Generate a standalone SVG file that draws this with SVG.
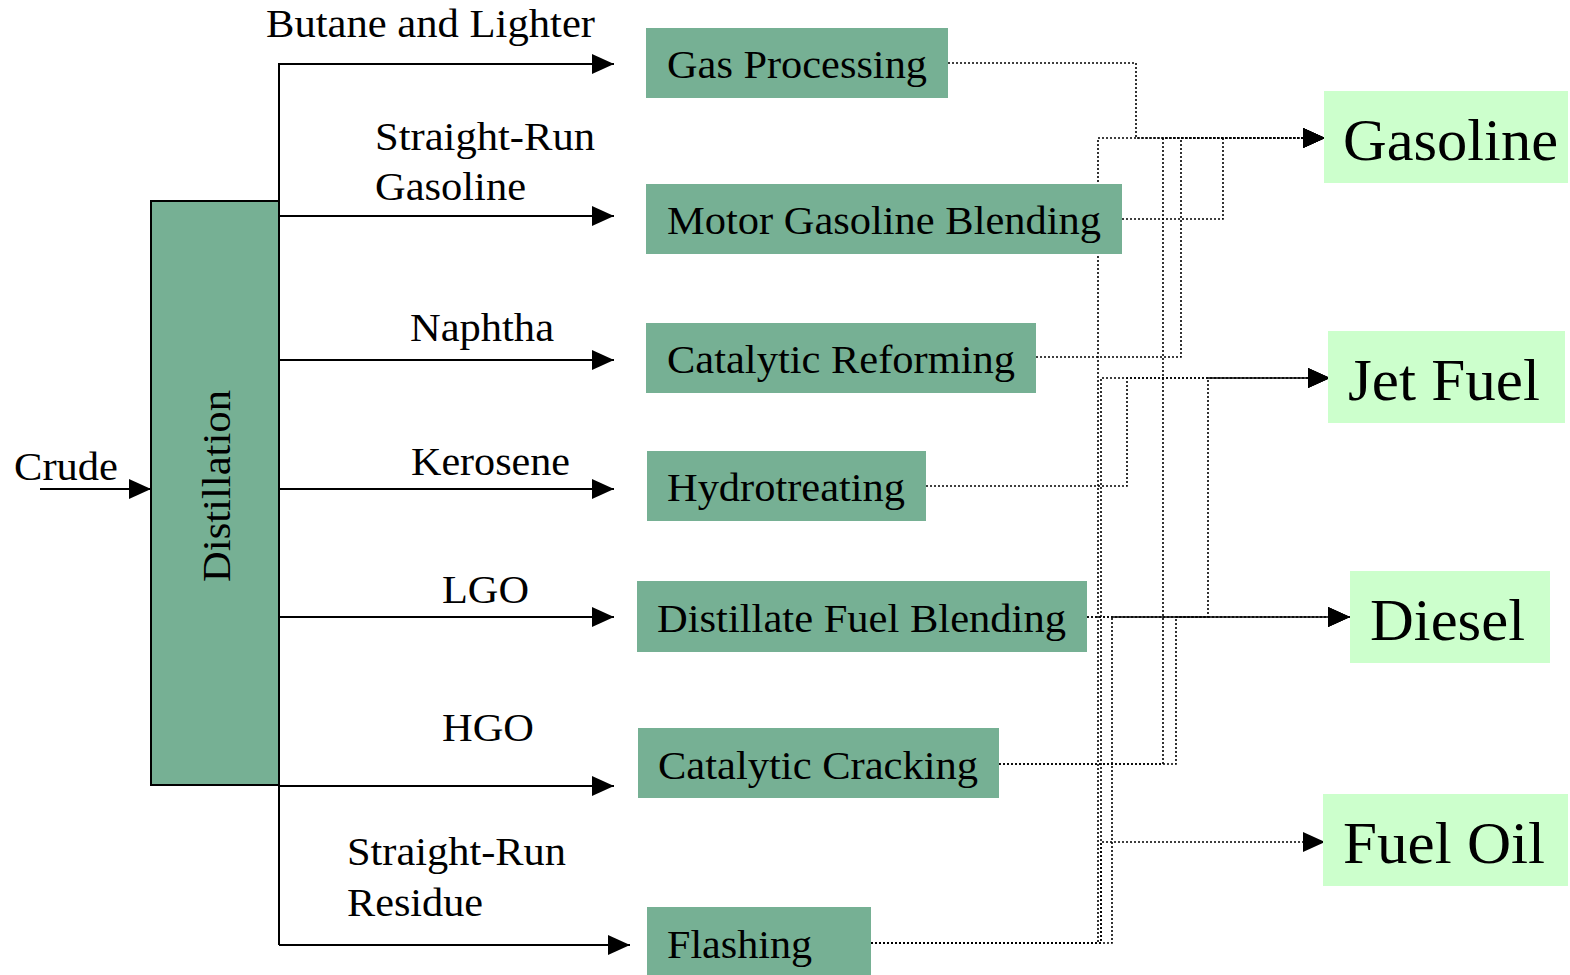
<svg xmlns="http://www.w3.org/2000/svg" width="1570" height="975" viewBox="0 0 1570 975">
<style>
.lbl{font-size:40px}
.big{font-size:60px}
.proc{fill:#76B094}
.prod{fill:#CCFFCC}
.solid{fill:none;stroke:#000;stroke-width:2}
.dot{fill:none;stroke:#000;stroke-width:1.6;stroke-dasharray:2 2}
</style>
<defs>
<marker id="ah" viewBox="0 0 22 20" refX="22" refY="10" markerWidth="22" markerHeight="20" markerUnits="userSpaceOnUse" orient="auto">
<path d="M0,0 L22,10 L0,20 z" fill="#000"/>
</marker>
</defs>
<rect width="1570" height="975" fill="#fff"/>

<g id="connectors">
<path class="solid" d="M40,489 H151" marker-end="url(#ah)"/>
<path class="solid" d="M279,63 V945"/>
<path class="solid" d="M279,64 H614" marker-end="url(#ah)"/>
<path class="solid" d="M279,216 H614" marker-end="url(#ah)"/>
<path class="solid" d="M279,360 H614" marker-end="url(#ah)"/>
<path class="solid" d="M279,489 H614" marker-end="url(#ah)"/>
<path class="solid" d="M279,617 H614" marker-end="url(#ah)"/>
<path class="solid" d="M279,786 H614" marker-end="url(#ah)"/>
<path class="solid" d="M279,945 H630" marker-end="url(#ah)"/>

<path class="dot" d="M948,63 H1136 V138 H1325" marker-end="url(#ah)"/>
<path class="dot" d="M1122,219 H1223 V138 H1325" marker-end="url(#ah)"/>
<path class="dot" d="M1036,357 H1181 V138 H1325" marker-end="url(#ah)"/>
<path class="dot" d="M999,764 H1163 V138 H1325" marker-end="url(#ah)"/>
<path class="dot" d="M999,764 H1176 V617 H1350" marker-end="url(#ah)"/>
<path class="dot" d="M926,486 H1127 V378 H1330" marker-end="url(#ah)"/>
<path class="dot" d="M1087,617 H1350" marker-end="url(#ah)"/>
<path class="dot" d="M1087,617 H1208 V378 H1330" marker-end="url(#ah)"/>
<path class="dot" d="M871,943 H1098 V138 H1325" marker-end="url(#ah)"/>
<path class="dot" d="M871,943 H1101 V378 H1330" marker-end="url(#ah)"/>
<path class="dot" d="M871,943 H1112 V617 H1350" marker-end="url(#ah)"/>
<path class="dot" d="M871,943 H1101 V842 H1325" marker-end="url(#ah)"/>
</g>

<g font-family="'Liberation Serif', 'Times New Roman', Tinos, 'DejaVu Serif', serif" fill="#000">
<g id="labels">
<text class="lbl" x="266" y="37" textLength="329" lengthAdjust="spacingAndGlyphs">Butane and Lighter</text>
<text class="lbl" x="375" y="150" textLength="220" lengthAdjust="spacingAndGlyphs">Straight-Run</text>
<text class="lbl" x="375" y="200" textLength="151" lengthAdjust="spacingAndGlyphs">Gasoline</text>
<text class="lbl" x="410" y="341" textLength="144" lengthAdjust="spacingAndGlyphs">Naphtha</text>
<text class="lbl" x="411" y="475" textLength="159" lengthAdjust="spacingAndGlyphs">Kerosene</text>
<text class="lbl" x="442" y="603" textLength="87" lengthAdjust="spacingAndGlyphs">LGO</text>
<text class="lbl" x="442" y="741" textLength="92" lengthAdjust="spacingAndGlyphs">HGO</text>
<text class="lbl" x="347" y="865" textLength="219" lengthAdjust="spacingAndGlyphs">Straight-Run</text>
<text class="lbl" x="347" y="916" textLength="136" lengthAdjust="spacingAndGlyphs">Residue</text>
<text class="lbl" x="14" y="480" textLength="104" lengthAdjust="spacingAndGlyphs">Crude</text>
</g>

<g id="distillation">
<rect x="151" y="201" width="128" height="584" class="proc" stroke="#000" stroke-width="2"/>
<text class="lbl" transform="translate(230,582) rotate(-90)" x="0" y="0" textLength="192" lengthAdjust="spacingAndGlyphs">Distillation</text>
</g>

<g id="gas-processing">
<rect x="646" y="28" width="302" height="70" class="proc"/>
<text class="lbl" x="667" y="78" textLength="260" lengthAdjust="spacingAndGlyphs">Gas Processing</text>
</g>
<g id="motor-gasoline-blending">
<rect x="646" y="184" width="476" height="70" class="proc"/>
<text class="lbl" x="667" y="234" textLength="434" lengthAdjust="spacingAndGlyphs">Motor Gasoline Blending</text>
</g>
<g id="catalytic-reforming">
<rect x="646" y="323" width="390" height="70" class="proc"/>
<text class="lbl" x="667" y="373" textLength="348" lengthAdjust="spacingAndGlyphs">Catalytic Reforming</text>
</g>
<g id="hydrotreating">
<rect x="647" y="451" width="279" height="70" class="proc"/>
<text class="lbl" x="667" y="501" textLength="238" lengthAdjust="spacingAndGlyphs">Hydrotreating</text>
</g>
<g id="distillate-fuel-blending">
<rect x="637" y="581" width="450" height="71" class="proc"/>
<text class="lbl" x="657" y="632" textLength="409" lengthAdjust="spacingAndGlyphs">Distillate Fuel Blending</text>
</g>
<g id="catalytic-cracking">
<rect x="638" y="728" width="361" height="70" class="proc"/>
<text class="lbl" x="658" y="779" textLength="320" lengthAdjust="spacingAndGlyphs">Catalytic Cracking</text>
</g>
<g id="flashing">
<rect x="647" y="907" width="224" height="68" class="proc"/>
<text class="lbl" x="667" y="958" textLength="145" lengthAdjust="spacingAndGlyphs">Flashing</text>
</g>

<g id="gasoline">
<rect x="1324" y="91" width="244" height="92" class="prod"/>
<text class="big" x="1343" y="160" textLength="215" lengthAdjust="spacingAndGlyphs">Gasoline</text>
</g>
<g id="jet-fuel">
<rect x="1328" y="331" width="237" height="92" class="prod"/>
<text class="big" x="1348" y="400" textLength="192" lengthAdjust="spacingAndGlyphs">Jet Fuel</text>
</g>
<g id="diesel">
<rect x="1350" y="571" width="200" height="92" class="prod"/>
<text class="big" x="1370" y="640" textLength="155" lengthAdjust="spacingAndGlyphs">Diesel</text>
</g>
<g id="fuel-oil">
<rect x="1323" y="794" width="245" height="92" class="prod"/>
<text class="big" x="1343" y="863" textLength="202" lengthAdjust="spacingAndGlyphs">Fuel Oil</text>
</g>
</g>
</svg>
